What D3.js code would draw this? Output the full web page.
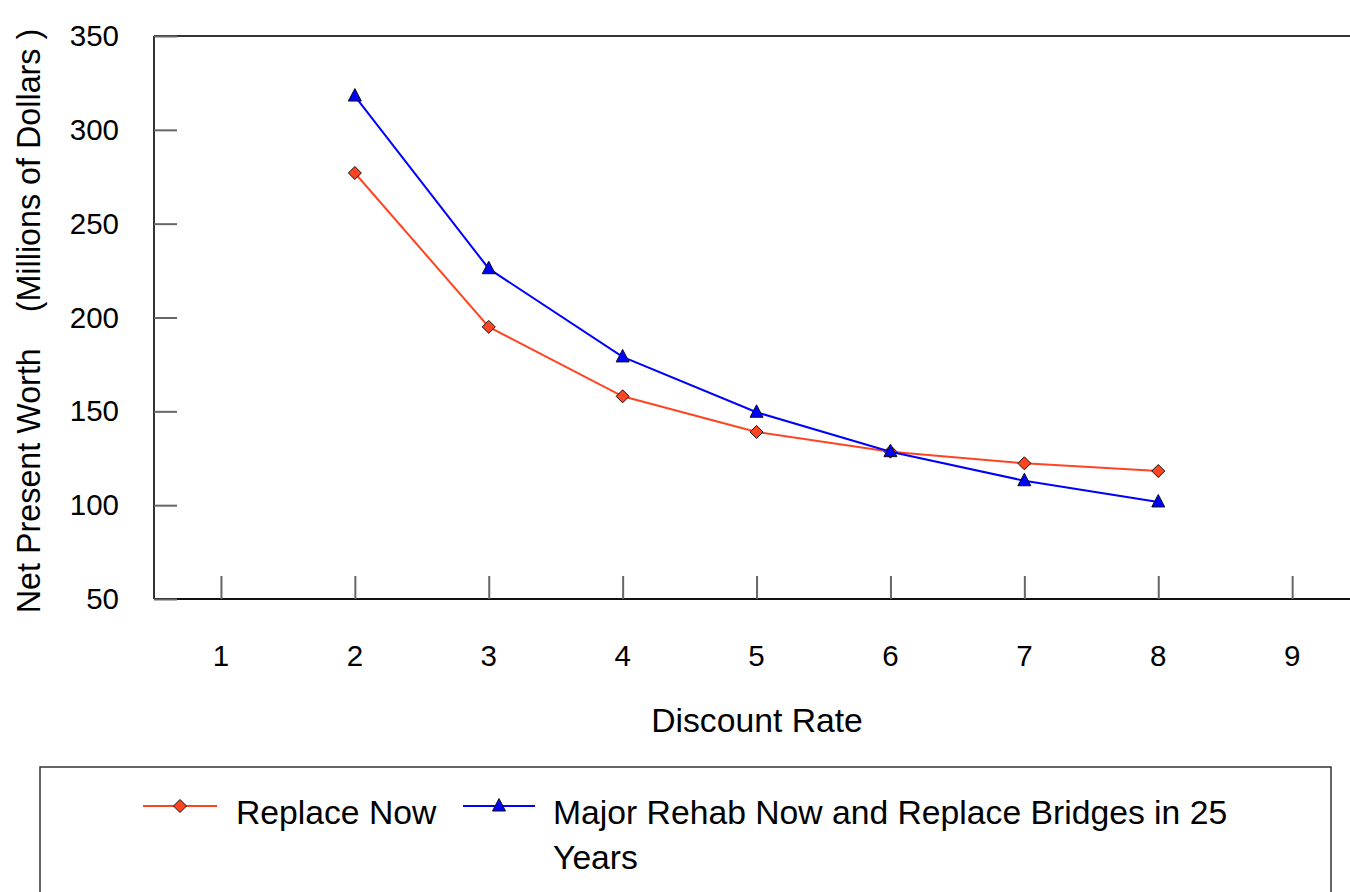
<!DOCTYPE html>
<html><head><meta charset="utf-8">
<script src="https://cdn.jsdelivr.net/npm/d3@7"></script>
<style>
html,body{margin:0;padding:0;background:#fff;}
svg{display:block;font-family:"Liberation Sans",Arial,Helvetica,sans-serif;}
</style></head>
<body><svg id="c" width="1350" height="892"></svg>
<script>
const discountRates = [2, 3, 4, 5, 6, 7, 8];
const replaceNow = [277, 195, 158, 139, 128.5, 122.3, 118.2];
const majorRehab = [318, 226, 179, 149.5, 128.5, 113, 101.7];
const xTicks = [1, 2, 3, 4, 5, 6, 7, 8, 9];
const yTicks = [50, 100, 150, 200, 250, 300, 350];
const seriesNames = ["Replace Now", "Major Rehab Now and Replace Bridges in 25", "Years"];

const svg = d3.select("#c");
const L = 154, T = 36, B = 599;
const x = d3.scaleLinear().domain([0.5, 9.5]).range([L, L + 9 * 133.9]);
const y = d3.scaleLinear().domain([50, 350]).range([B, T]);

const red = "#FF4422", blue = "#0000FF";

// frame lines
svg.append("line").attr("x1", L).attr("x2", 1350).attr("y1", T).attr("y2", T).attr("stroke", "#333").attr("stroke-width", 2);
svg.append("line").attr("x1", L).attr("x2", 1350).attr("y1", B).attr("y2", B).attr("stroke", "#111").attr("stroke-width", 2);
svg.append("line").attr("x1", L).attr("x2", L).attr("y1", T).attr("y2", B).attr("stroke", "#333").attr("stroke-width", 2);

// y axis ticks (inward) and labels
const yAxis = d3.axisRight(y).tickValues(yTicks).tickSize(23).tickFormat("");
const gy = svg.append("g").attr("transform", `translate(${L},0)`).call(yAxis);
gy.select(".domain").remove();
gy.selectAll(".tick line").attr("stroke", "#666").attr("stroke-width", 2);
svg.append("g").selectAll("text").data(yTicks).join("text")
  .attr("x", 119).attr("y", d => y(d) + 10)
  .attr("text-anchor", "end").attr("font-size", 29.5).attr("fill", "#000")
  .text(d => d);

// x axis ticks (upward) and labels
const xAxis = d3.axisTop(x).tickValues(xTicks).tickSize(23).tickFormat("");
const gx = svg.append("g").attr("transform", `translate(0,${B})`).call(xAxis);
gx.select(".domain").remove();
gx.selectAll(".tick line").attr("stroke", "#666").attr("stroke-width", 2);
svg.append("g").selectAll("text").data(xTicks).join("text")
  .attr("x", d => x(d)).attr("y", 666)
  .attr("text-anchor", "middle").attr("font-size", 29.5).attr("fill", "#000")
  .text(d => d);

// axis titles
svg.append("text").attr("x", 757).attr("y", 732).attr("text-anchor", "middle")
  .attr("font-size", 33.7).text("Discount Rate");
svg.append("text").attr("transform", "translate(40,321) rotate(-90)")
  .attr("text-anchor", "middle").attr("font-size", 32.3)
  .style("white-space", "pre")
  .text("Net Present Worth    (Millions of Dollars )");

// marker shapes
const diamond = { draw(ctx, s) { const r = 6.5; ctx.moveTo(0, -r); ctx.lineTo(r, 0); ctx.lineTo(0, r); ctx.lineTo(-r, 0); ctx.closePath(); } };
const tri = { draw(ctx, s) { ctx.moveTo(0, -7.5); ctx.lineTo(6.5, 5); ctx.lineTo(-6.5, 5); ctx.closePath(); } };

const line = d3.line().x(d => x(d[0])).y(d => y(d[1]));
function drawSeries(vals, color, shape) {
  const pts = discountRates.map((r, i) => [r, vals[i]]);
  svg.append("path").datum(pts).attr("d", line).attr("fill", "none")
    .attr("stroke", color).attr("stroke-width", 2);
  svg.append("g").selectAll("path").data(pts).join("path")
    .attr("transform", d => `translate(${x(d[0])},${y(d[1])})`)
    .attr("d", d3.symbol().type(shape)())
    .attr("fill", color).attr("stroke", "#111").attr("stroke-width", 1);
}
drawSeries(replaceNow, red, diamond);
drawSeries(majorRehab, blue, tri);

// legend
svg.append("rect").attr("x", 40).attr("y", 767).attr("width", 1291).attr("height", 140)
  .attr("fill", "none").attr("stroke", "#333").attr("stroke-width", 1.5);
const ly = 806;
svg.append("line").attr("x1", 143).attr("x2", 217).attr("y1", ly).attr("y2", ly).attr("stroke", red).attr("stroke-width", 2);
svg.append("path").attr("transform", `translate(180,${ly})`).attr("d", d3.symbol().type(diamond)())
  .attr("fill", red).attr("stroke", "#111").attr("stroke-width", 1);
svg.append("text").attr("x", 236).attr("y", 824).attr("font-size", 33.7).text(seriesNames[0]);
svg.append("line").attr("x1", 463).attr("x2", 535).attr("y1", ly).attr("y2", ly).attr("stroke", blue).attr("stroke-width", 2);
svg.append("path").attr("transform", `translate(499,${ly})`).attr("d", d3.symbol().type(tri)())
  .attr("fill", blue).attr("stroke", "#111").attr("stroke-width", 1);
svg.append("text").attr("x", 553).attr("y", 824).attr("font-size", 33.7).text(seriesNames[1]);
svg.append("text").attr("x", 553).attr("y", 869).attr("font-size", 33.7).text(seriesNames[2]);
</script></body></html>
